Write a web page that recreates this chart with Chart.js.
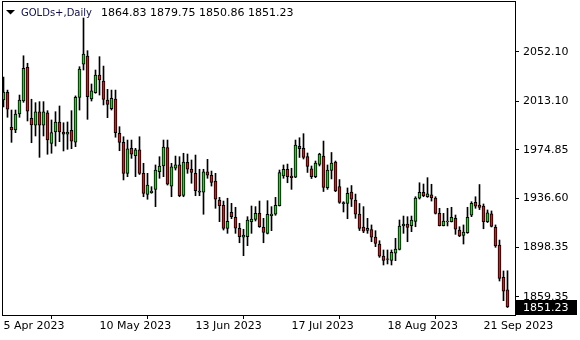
<!DOCTYPE html>
<html>
<head>
<meta charset="utf-8">
<script src="https://cdn.jsdelivr.net/npm/chart.js@4.4.1/dist/chart.umd.min.js"></script>
<style>
  html, body { margin: 0; padding: 0; background: #fff; }
</style>
</head>
<body>
<canvas id="grafico" width="580" height="340"></canvas>
<script>
const simbolo = 'GOLDs+,Daily';

// OHLC diario
const openP = [2014.1,2020.2,1992.6,1990.5,2003.1,2013.3,2039.8,1999.7,1994.2,2004.7,
  1994.2,2004.1,1980.0,1988.9,1996.8,1988.9,1987.3,1990.3,1981.0,2016.2,
  2042.2,2048.7,2014.9,2019.8,2033.8,2029.0,2014.1,2007.3,2014.9,1987.9,
  1980.8,1956.4,1976.1,1970.3,1974.8,1956.4,1939.9,1941.2,1943.8,1957.7,
  1962.2,1976.6,1946.4,1960.4,1963.0,1939.1,1965.1,1959.6,1956.4,1942.5,
  1941.5,1957.5,1954.9,1950.4,1935.4,1931.2,1913.0,1925.7,1921.8,1913.2,
  1906.1,1906.6,1918.4,1920.2,1924.9,1913.9,1909.2,1923.1,1924.2,1930.9,
  1954.3,1959.6,1954.3,1953.3,1977.7,1976.1,1969.6,1960.0,1953.8,1963.5,
  1970.0,1945.1,1958.6,1965.2,1946.0,1933.3,1932.8,1941.6,1935.4,1924.4,
  1914.2,1911.4,1912.2,1906.3,1900.8,1891.4,1889.2,1887.8,1893.5,1896.6,
  1915.0,1916.5,1915.2,1918.5,1936.8,1941.5,1938.0,1939.4,1937.0,1924.9,
  1915.2,1918.4,1918.4,1921.1,1911.8,1907.5,1909.8,1923.4,1933.6,1931.5,
  1930.7,1918.4,1924.6,1913.9,1900.0,1874.6,1864.83];
const highP = [2032.2,2021.9,2006.2,2006.2,2018.0,2048.9,2043.0,2014.7,2012.0,2012.8,
  2012.8,2005.7,1998.4,2004.9,2009.4,1996.2,1996.8,2005.7,2017.3,2040.3,
  2078.6,2052.9,2026.7,2037.7,2048.2,2040.8,2022.5,2021.9,2021.9,1993.1,
  1985.2,1982.6,1982.6,1976.1,1985.2,1964.3,1956.4,1945.9,1963.0,1969.5,
  1982.6,1982.6,1964.3,1970.0,1969.5,1972.2,1971.6,1966.9,1970.8,1959.6,
  1959.6,1967.4,1958.2,1956.4,1937.5,1934.6,1936.8,1932.8,1929.7,1917.1,
  1912.4,1922.3,1930.7,1930.2,1934.6,1921.0,1934.9,1930.2,1937.5,1959.0,
  1963.0,1963.7,1960.4,1982.6,1984.4,1987.6,1972.4,1962.2,1966.1,1972.2,
  1981.8,1963.0,1972.8,1966.1,1951.5,1934.1,1944.9,1946.8,1940.1,1932.7,
  1930.2,1921.0,1915.8,1911.3,1903.4,1896.1,1896.1,1896.1,1905.3,1919.7,
  1922.8,1922.3,1922.8,1938.0,1949.0,1948.0,1953.0,1947.8,1938.0,1928.9,
  1924.9,1928.9,1929.7,1923.6,1914.4,1915.8,1929.7,1934.1,1938.0,1947.6,
  1932.3,1927.6,1926.8,1915.8,1903.9,1879.6,1879.75];
const lowP = [2008.6,2000.5,1980.8,1988.4,2000.5,2012.3,1997.6,1980.5,1985.8,1969.0,
  1985.8,1971.4,1972.2,1977.9,1981.3,1974.0,1975.3,1975.8,1977.4,2006.2,
  2037.7,1998.9,2013.3,2019.4,2018.0,2010.2,2000.2,2006.2,1984.8,1974.2,
  1951.2,1953.8,1968.2,1953.8,1955.5,1938.0,1936.0,1940.7,1930.2,1952.5,
  1953.8,1947.2,1938.0,1959.0,1938.0,1938.0,1956.4,1948.6,1938.8,1938.8,
  1924.2,1952.5,1946.4,1928.9,1918.4,1911.8,1909.2,1920.7,1909.2,1901.8,
  1891.6,1899.5,1909.2,1918.9,1913.9,1901.8,1908.7,1911.3,1923.4,1930.7,
  1952.5,1949.0,1943.8,1953.0,1968.9,1967.7,1957.1,1952.3,1953.0,1962.2,
  1942.1,1943.8,1952.0,1942.0,1932.8,1926.0,1920.7,1930.3,1921.0,1911.4,
  1909.7,1909.2,1902.6,1898.7,1890.3,1884.3,1885.1,1884.3,1887.7,1896.1,
  1909.2,1902.6,1910.5,1914.4,1936.2,1938.0,1937.5,1934.6,1924.4,1915.0,
  1915.0,1915.0,1918.1,1908.4,1906.6,1900.8,1909.2,1922.3,1928.9,1927.9,
  1912.8,1917.7,1914.2,1898.2,1871.7,1856.2,1850.86];
const closeP = [2020.4,2006.8,1990.5,2003.1,2014.1,2039.0,2005.4,1994.4,2004.7,1994.2,
  2004.7,1982.6,1988.4,1996.8,1988.9,1987.3,1988.9,1981.8,2016.2,2038.5,
  2050.3,2016.7,2021.4,2033.8,2029.8,2014.6,2010.7,2015.4,1988.4,1980.8,
  1956.4,1975.6,1971.4,1974.8,1956.4,1940.7,1947.2,1942.5,1959.0,1962.2,
  1977.1,1947.8,1961.6,1963.0,1938.8,1965.3,1959.6,1957.2,1942.7,1941.5,
  1957.5,1954.9,1949.2,1936.0,1930.9,1913.0,1918.7,1922.3,1913.2,1906.6,
  1907.9,1919.7,1920.5,1924.9,1914.4,1910.0,1924.2,1924.4,1931.2,1956.9,
  1959.6,1953.8,1953.0,1978.7,1975.9,1969.0,1961.8,1953.8,1964.5,1971.5,
  1945.3,1958.9,1964.4,1942.5,1933.5,1932.5,1940.7,1936.0,1924.2,1913.0,
  1911.0,1913.2,1906.1,1901.2,1891.2,1887.8,1888.6,1894.3,1896.9,1915.0,
  1916.5,1913.9,1919.7,1937.0,1941.5,1938.8,1940.2,1937.2,1924.9,1915.2,
  1918.9,1918.9,1921.8,1912.4,1907.1,1910.1,1921.8,1932.8,1930.5,1929.5,
  1918.4,1925.4,1914.7,1899.2,1873.7,1863.6,1851.23];

// Etiquetas de fecha (índice de vela) y niveles del eje de precios
const fechaIdx = [0, 24, 48, 72, 96, 120];
const fechaTxt = ['5 Apr 2023', '10 May 2023', '13 Jun 2023', '17 Jul 2023', '18 Aug 2023', '21 Sep 2023'];
const nivelesPrecio = [1859.35, 1898.35, 1936.60, 1974.85, 2013.10, 2052.10];

const ultimo = closeP.length - 1;
const velas = closeP.map((c, i) => ({ x: i, y: [openP[i], c] }));
const mechas = closeP.map((c, i) => ({ x: i, y: [lowP[i], highP[i]] }));
const coloresVela = closeP.map((c, i) => c >= openP[i] ? '#22d322' : '#d71a1a');

const fuente = 'DejaVu Sans';

// Marco, cabecera y etiqueta del último precio
const decoracion = {
  id: 'decoracion',
  afterDraw(chart) {
    const ctx = chart.ctx;
    const a = chart.chartArea;
    ctx.save();
    ctx.strokeStyle = '#000';
    ctx.lineWidth = 1;
    ctx.strokeRect(a.left - 0.5, a.top - 0.5, a.right - a.left + 1, a.bottom - a.top + 1);

    // cabecera
    ctx.fillStyle = '#000';
    ctx.beginPath();
    ctx.moveTo(6, 10); ctx.lineTo(15, 10); ctx.lineTo(10.5, 14.5); ctx.closePath();
    ctx.fill();
    ctx.textBaseline = 'middle';
    ctx.textAlign = 'left';
    ctx.fillStyle = '#101040';
    ctx.font = '10px "' + fuente + '"';
    ctx.fillText(simbolo, 21, 13);
    ctx.fillStyle = '#000';
    ctx.font = '11px "' + fuente + '"';
    const ohlc = [openP[ultimo], highP[ultimo], lowP[ultimo], closeP[ultimo]].map(v => v.toFixed(2)).join(' ');
    ctx.fillText(ohlc, 101, 13);

    // último precio
    const py = Math.round(chart.scales.y.getPixelForValue(closeP[ultimo]));
    ctx.fillStyle = '#000';
    ctx.fillRect(a.right + 1, py - 7, 61, 15);
    ctx.fillStyle = '#fff';
    ctx.fillText(closeP[ultimo].toFixed(2), a.right + 8, py + 1);
    ctx.restore();
  }
};

new Chart(document.getElementById('grafico').getContext('2d'), {
  type: 'bar',
  data: {
    datasets: [
      {
        data: velas,
        backgroundColor: coloresVela,
        borderColor: '#000',
        borderWidth: 1,
        borderSkipped: false,
        barThickness: 3,
        grouped: false,
        order: 0
      },
      {
        data: mechas,
        backgroundColor: '#000',
        borderWidth: 0,
        barThickness: 1,
        grouped: false,
        order: 1
      }
    ]
  },
  options: {
    responsive: false,
    animation: false,
    layout: { padding: { left: 3, top: 2, right: 0, bottom: 0 } },
    plugins: { legend: { display: false }, tooltip: { enabled: false } },
    scales: {
      x: {
        type: 'linear',
        position: 'bottom',
        min: -0.125,
        max: 127.875,
        offset: false,
        afterFit: s => { s.height = 25; s.paddingLeft = 0; s.paddingRight = 0; },
        afterBuildTicks: s => { s.ticks = fechaIdx.map(v => ({ value: v })); },
        grid: { drawOnChartArea: false, drawTicks: true, tickLength: 4, color: '#000' },
        border: { display: true, color: '#000' },
        ticks: {
          align: 'start',
          padding: 1,
          color: '#000',
          maxRotation: 0,
          autoSkip: false,
          font: { family: fuente, size: 11 },
          callback: v => fechaTxt[fechaIdx.indexOf(v)] || ''
        }
      },
      y: {
        type: 'linear',
        position: 'right',
        min: 1844.95,
        max: 2091.2,
        afterFit: s => { s.width = 65; s.paddingTop = 0; s.paddingBottom = 0; },
        afterBuildTicks: s => { s.ticks = nivelesPrecio.map(v => ({ value: v })); },
        grid: { drawOnChartArea: false, drawTicks: true, tickLength: 4, color: '#000' },
        border: { display: true, color: '#000' },
        ticks: {
          padding: 4,
          color: '#000',
          font: { family: fuente, size: 11 },
          callback: v => Number(v).toFixed(2)
        }
      }
    }
  },
  plugins: [decoracion]
});
</script>
</body>
</html>
